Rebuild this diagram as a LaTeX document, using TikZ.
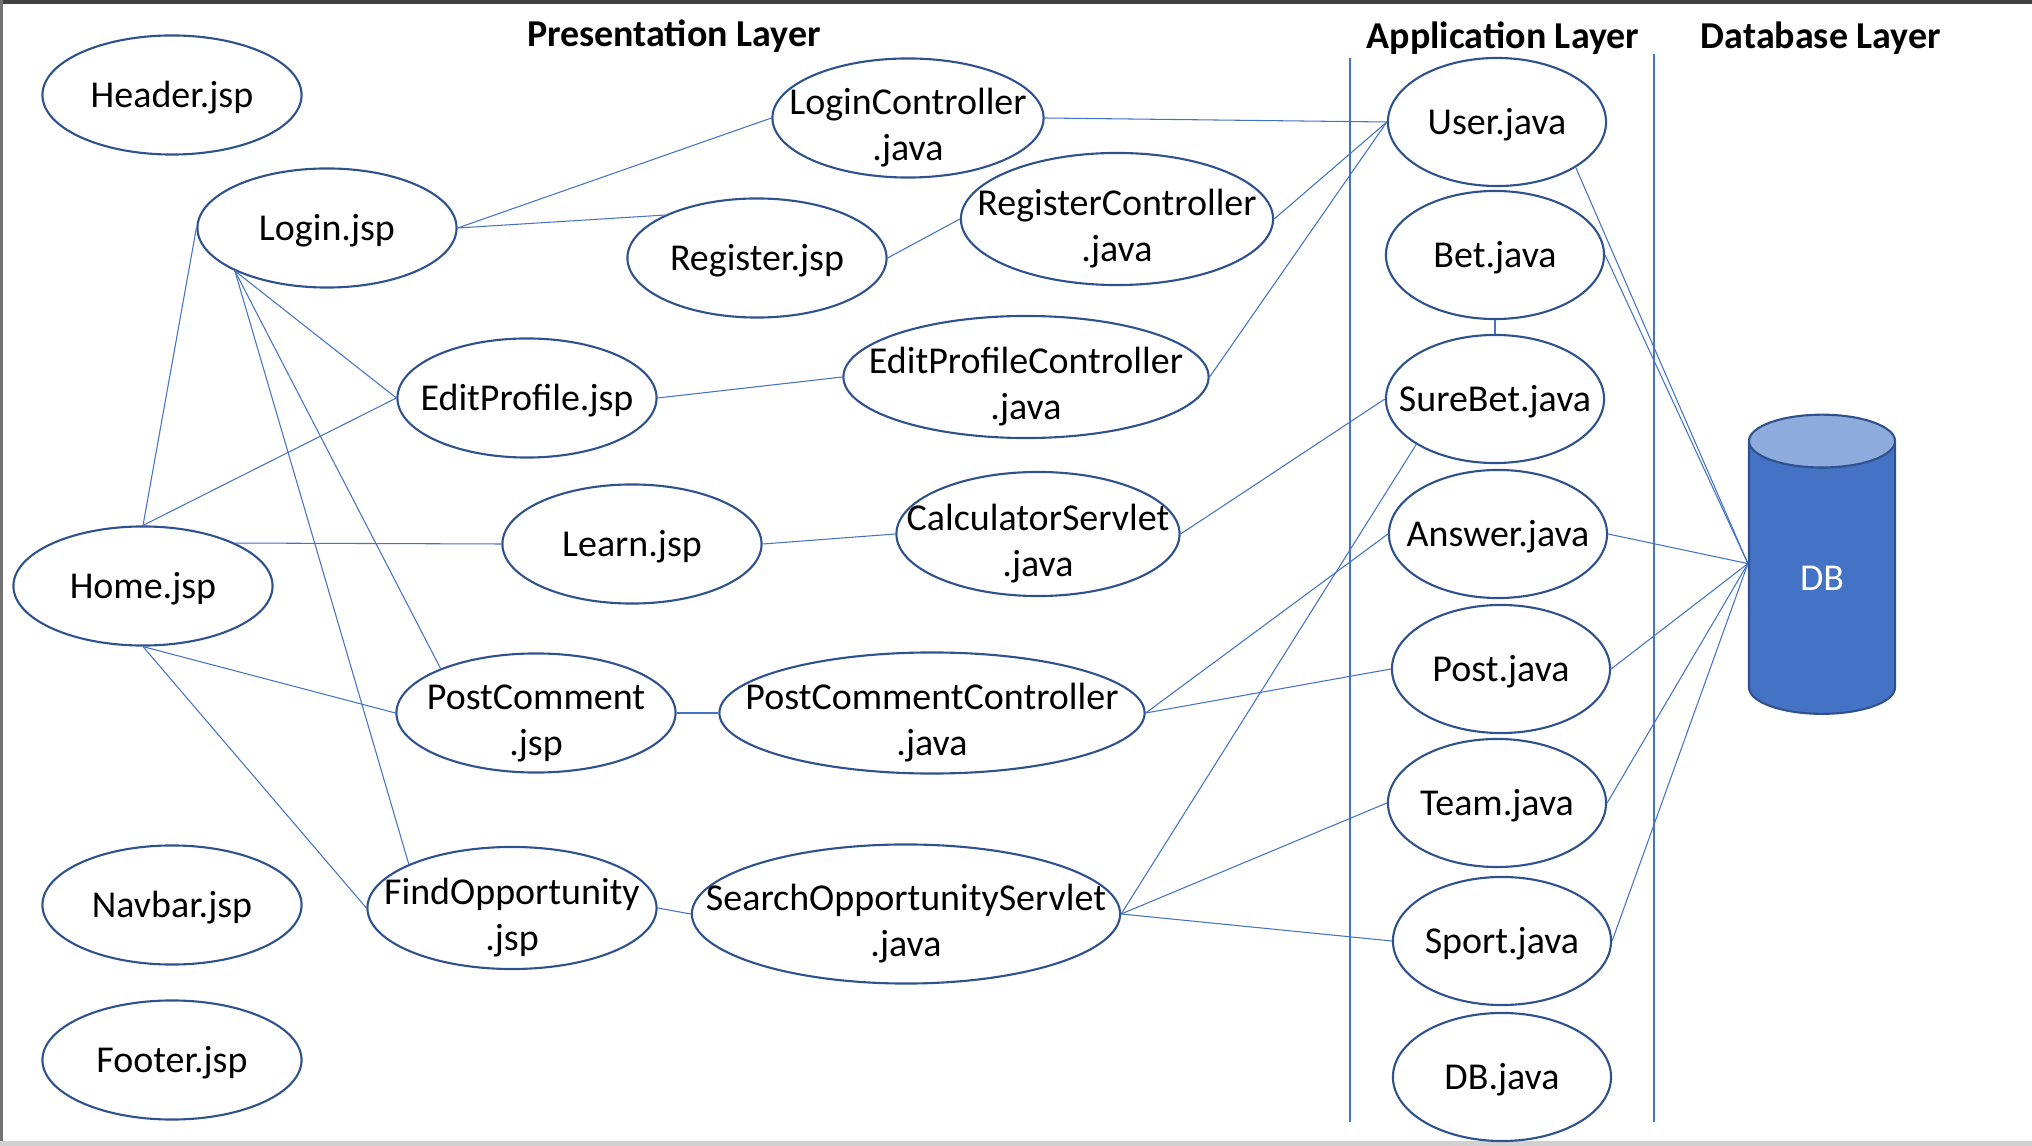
\documentclass[tikz,border=0pt]{standalone}
\usepackage{fontspec}
\setmainfont{Carlito}
\usetikzlibrary{shapes.geometric}
\definecolor{edgeblue}{HTML}{2F528F}
\definecolor{linkblue}{HTML}{4472C4}
\definecolor{dbcap}{HTML}{8FAADC}
\tikzset{
jsp/.style={ellipse,draw=edgeblue,line width=.6pt,minimum width=2.59cm,minimum height=1.19cm,inner sep=-.5cm,align=center,text height=9.3pt,text depth=2.2pt},
twoline/.style={text height=26.3pt,text depth=2.2pt},
cls/.style={jsp,minimum width=2.18cm,minimum height=1.28cm},
dbstore/.style={cylinder,shape border rotate=90,aspect=1.2,draw=edgeblue,line width=.6pt,cylinder uses custom fill,cylinder body fill=linkblue,cylinder end fill=dbcap,minimum width=1.46cm,minimum height=2.99cm,text=white,inner sep=0pt},
link/.style={draw=linkblue,line width=.3pt},
divider/.style={draw=linkblue,line width=.35pt},
layertitle/.style={font=\fontsize{10.8}{13}\selectfont\bfseries}
}
\begin{document}
\begin{tikzpicture}[x=0.01cm,y=-0.01cm,font=\fontsize{10.8}{13}\selectfont]
\useasboundingbox (0,0) rectangle (2032,1146);
% frame of the slide
\fill[black!75] (0,0) rectangle (2032,4);
\fill[black!55] (0,0) rectangle (3,1146);
\fill[black!18] (0,1141) rectangle (2032,1146);
% layers
\node[layertitle](ptitle) at (674,36){Presentation Layer};
\node[layertitle](atitle) at (1503,38){Application Layer};
\node[layertitle](dtitle) at (1821,38){Database Layer};
\draw[divider](1350,58)--(1350,1122);
\draw[divider](1654,54)--(1654,1122);
% jsp pages
\node[jsp](header) at (172,95){Header.jsp};
\node[jsp](login) at (327,228){Login.jsp};
\node[jsp](home) at (143,586){Home.jsp};
\node[jsp](navbar) at (172,905){Navbar.jsp};
\node[jsp](footer) at (172,1060){Footer.jsp};
\node[jsp](register) at (757,258){Register.jsp};
\node[jsp](editprofile) at (527,398){EditProfile.jsp};
\node[jsp](learn) at (632,544){Learn.jsp};
\node[jsp,twoline,minimum width=2.79cm](postcomment) at (536,713){PostComment\\.jsp};
\node[jsp,twoline,minimum width=2.89cm,minimum height=1.22cm](findopp) at (512,908){FindOpportunity\\.jsp};
% controllers and servlets
\node[jsp,twoline,minimum width=2.71cm](loginctl) at (908,118){LoginController\\.java};
\node[jsp,twoline,minimum width=3.12cm,minimum height=1.32cm](registerctl) at (1117,219){RegisterController\\.java};
\node[jsp,twoline,minimum width=3.65cm,minimum height=1.22cm](editprofilectl) at (1026,377){EditProfileController\\.java};
\node[jsp,twoline,minimum width=2.83cm,minimum height=1.24cm](calculator) at (1038,534){CalculatorServlet\\.java};
\node[jsp,twoline,minimum width=4.25cm,minimum height=1.21cm](postcommentctl) at (932,713){PostCommentController\\.java};
\node[jsp,twoline,minimum width=4.28cm,minimum height=1.39cm](searchopp) at (906,914){SearchOpportunityServlet\\.java};
% application layer
\node[cls](user) at (1497,122){User.java};
\node[cls](bet) at (1495,255){Bet.java};
\node[cls](surebet) at (1495,399){SureBet.java};
\node[cls](answer) at (1498,534){Answer.java};
\node[cls](post) at (1501,669){Post.java};
\node[cls](team) at (1497,803){Team.java};
\node[cls](sport) at (1502,941){Sport.java};
\node[cls](dbjava) at (1502,1077){DB.java};
% database layer
\node[dbstore](db) at (1822,578){DB};
% links
\draw[link](login.east)--(loginctl.west);
\draw[link](login.east)--(register.155);
\draw[link](register.east)--(registerctl.west);
\draw[link](loginctl.east)--(user.west);
\draw[link](registerctl.east)--(user.west);
\draw[link](editprofilectl.east)--(user.west);
\draw[link](login.205)--(editprofile.west);
\draw[link](login.205)--(postcomment.155);
\draw[link](login.205)--(findopp.157);
\draw[link](login.west)--(home.north);
\draw[link](home.north)--(editprofile.west);
\draw[link](home.25)--(learn.west);
\draw[link](home.south)--(postcomment.west);
\draw[link](home.south)--(findopp.west);
\draw[link](editprofile.east)--(editprofilectl.west);
\draw[link](learn.east)--(calculator.west);
\draw[link](calculator.east)--(surebet.west);
\draw[link](postcomment.east)--(postcommentctl.west);
\draw[link](postcommentctl.east)--(answer.west);
\draw[link](postcommentctl.east)--(post.west);
\draw[link](findopp.east)--(searchopp.west);
\draw[link](searchopp.east)--(surebet.210);
\draw[link](searchopp.east)--(team.west);
\draw[link](searchopp.east)--(sport.west);
\draw[link](bet.south)--(surebet.north);
\draw[link](user.330)--(db.169);
\draw[link](bet.east)--(db.169);
\draw[link](answer.east)--(db.169);
\draw[link](post.east)--(db.169);
\draw[link](team.east)--(db.169);
\draw[link](sport.east)--(db.169);
\end{tikzpicture}
\end{document}
